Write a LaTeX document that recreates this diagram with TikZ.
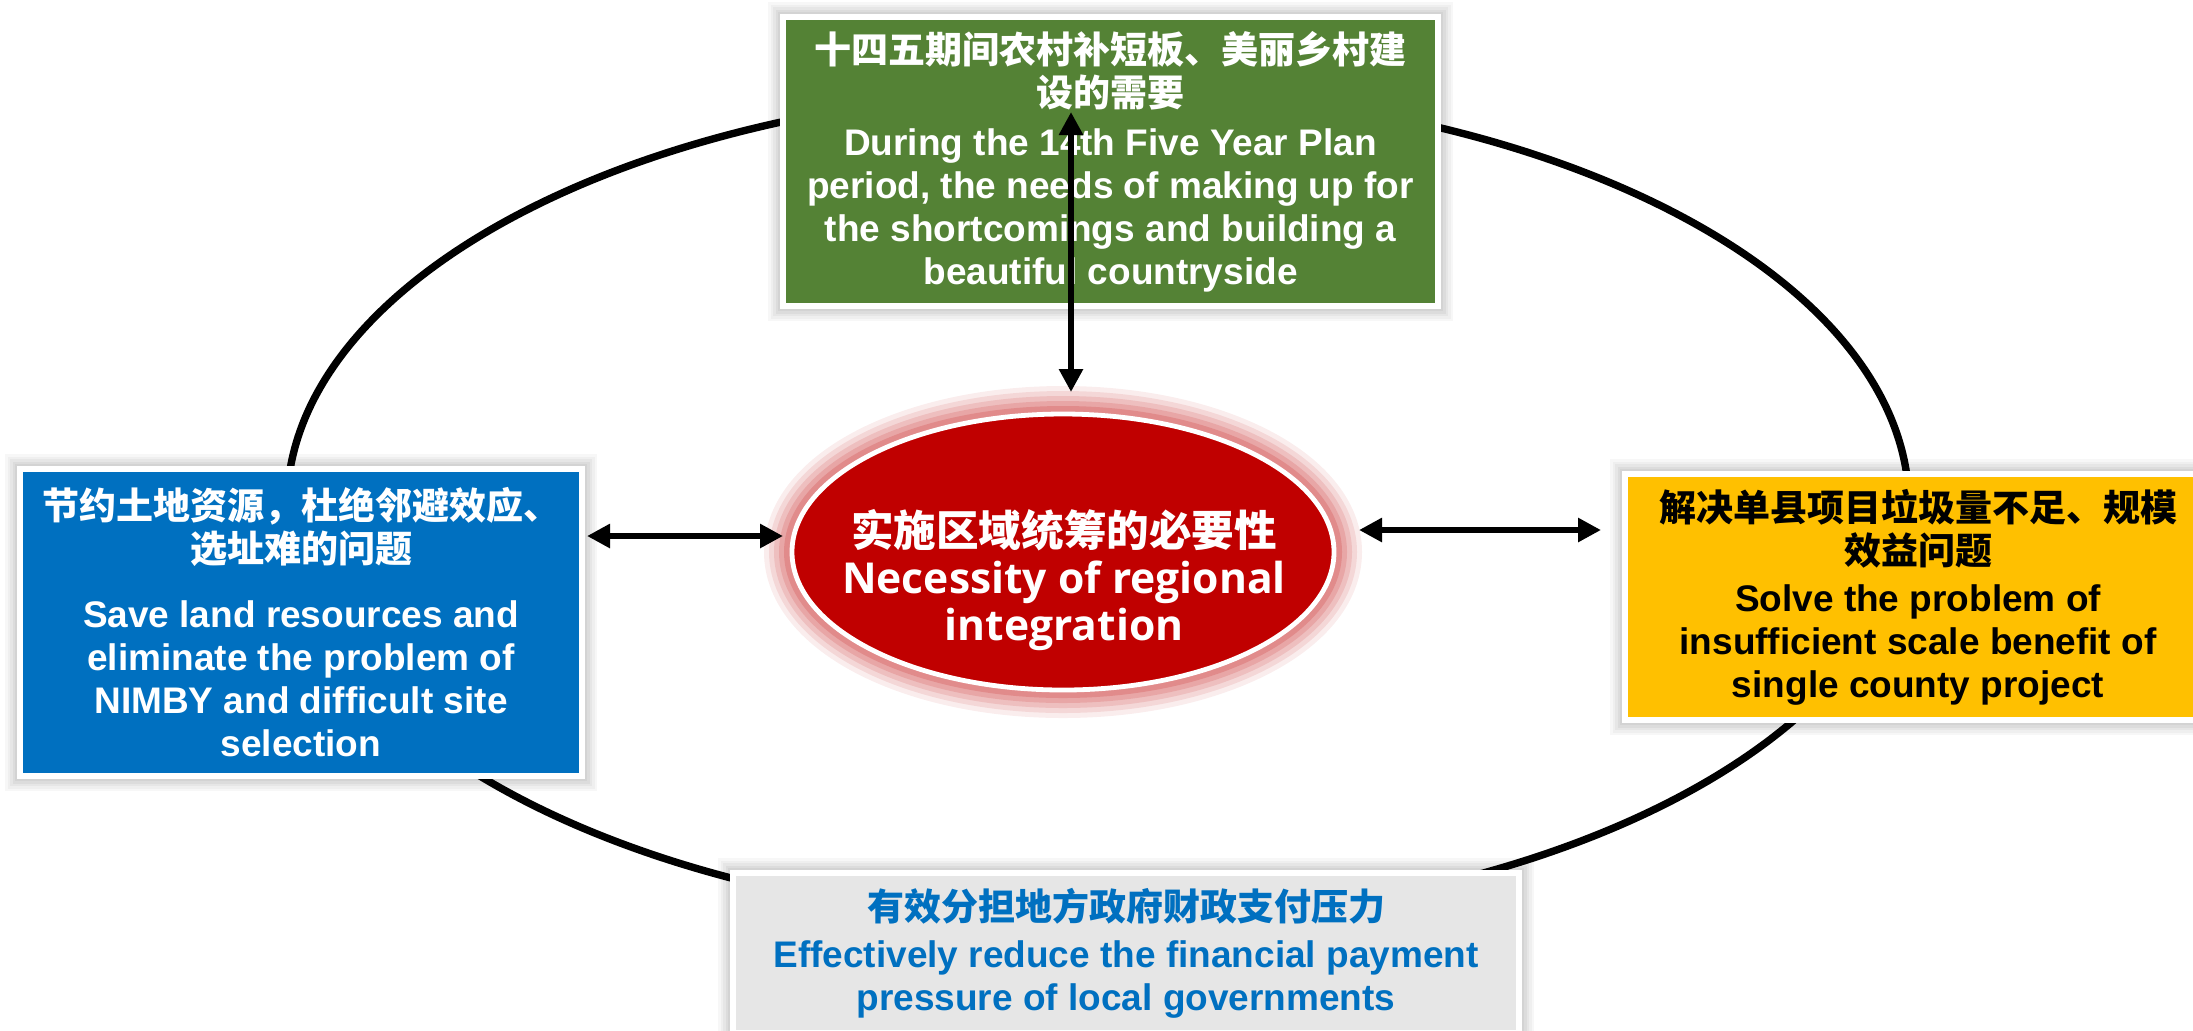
\documentclass[tikz,border=0pt]{standalone}
\usepackage{fontspec}
\setmainfont{Liberation Sans}
\newfontfamily\cjk{Noto Sans CJK SC}
\newfontfamily\osans{Open Sans}
\usetikzlibrary{shapes.geometric,arrows.meta}
\definecolor{cgreen}{HTML}{548235}
\definecolor{cblue}{HTML}{0070C0}
\definecolor{cyellow}{HTML}{FFC000}
\definecolor{cgray}{HTML}{E6E6E6}
\definecolor{cred}{HTML}{C00000}
\tikzset{
  glowbox/.style={rectangle, draw=white, line width=2.6pt, inner sep=0pt, align=center,
    font=\bfseries\fontsize{18.5}{21.5}\selectfont,
    preaction={draw=black, draw opacity=0.03, line width=15pt},
    preaction={draw=black, draw opacity=0.03, line width=12.5pt},
    preaction={draw=black, draw opacity=0.035, line width=10pt},
    preaction={draw=black, draw opacity=0.04, line width=7.5pt},
    preaction={draw=black, draw opacity=0.04, line width=5pt}},
  coreoval/.style={ellipse, draw=white, line width=2.4pt, fill=cred, inner sep=0pt,
    preaction={draw=cred, draw opacity=0.07, line width=28pt},
    preaction={draw=cred, draw opacity=0.09, line width=23pt},
    preaction={draw=cred, draw opacity=0.11, line width=18pt},
    preaction={draw=cred, draw opacity=0.13, line width=13pt},
    preaction={draw=cred, draw opacity=0.16, line width=8pt}},
  coretext/.style={text=white, align=center, inner sep=0pt,
    font=\bfseries\fontsize{21.3}{23.5}\selectfont},
  ringline/.style={ellipse, draw=black, line width=3.7pt, inner sep=0pt},
  dblarrow/.style={line width=3.4pt, {Triangle[length=11.5pt,width=11.5pt]}-{Triangle[length=11.5pt,width=11.5pt]}}
}
\begin{document}
\begin{tikzpicture}[x=0.5pt,y=-0.5pt]
\useasboundingbox (0,0) rectangle (2193,1030);
\fill[white] (0,0) rectangle (2193,1030);
% outer ring
\node[ringline, minimum width=811pt, minimum height=417pt] (ring) at (1098,506) {};
% boxes
\node[glowbox, fill=cgreen, text=white, minimum width=327.5pt, minimum height=144.5pt] (need) at (1110.5,161.5)
  {{\cjk 十四五期间农村补短板、美丽乡村建}\\{\cjk 设的需要}\\[3pt]
   During the 14th Five Year Plan\\period, the needs of making up for\\the shortcomings and building a\\beautiful countryside};
\node[glowbox, fill=cblue, text=white, minimum width=281pt, minimum height=153.5pt] (land) at (301,622.5)
  {{\cjk 节约土地资源，杜绝邻避效应、}\\{\cjk 选址难的问题}\\[11pt]
   Save land resources and\\eliminate the problem of\\NIMBY and difficult site\\selection};
\node[glowbox, fill=cyellow, text=black, minimum width=293pt, minimum height=123pt] (scale) at (1918,597)
  {{\cjk 解决单县项目垃圾量不足、规模}\\{\cjk 效益问题}\\[2pt]
   Solve the problem of\\insufficient scale benefit of\\single county project};
\node[glowbox, fill=cgray, text=cblue, minimum width=393pt, minimum height=80pt] (finance) at (1126,953)
  {{\cjk 有效分担地方政府财政支付压力}\\[2pt]
   Effectively reduce the financial payment\\pressure of local governments};
% centre
\node[coreoval, minimum width=271pt, minimum height=138pt] (core) at (1063,552) {};
\node[coretext] (coretxt) at (1064,580)
  {{\cjk 实施区域统筹的必要性}\\{\osans Necessity of regional}\\{\osans integration}};
% arrows
\coordinate (vtop) at (1071,112);
\coordinate (vbot) at (1071,392);
\coordinate (lA) at (587,536);
\coordinate (lB) at (783,536);
\coordinate (rA) at (1359,530);
\coordinate (rB) at (1601,530);
\draw[dblarrow] (vtop) -- (vbot);
\draw[dblarrow] (lA) -- (lB);
\draw[dblarrow] (rA) -- (rB);
\end{tikzpicture}
\end{document}
